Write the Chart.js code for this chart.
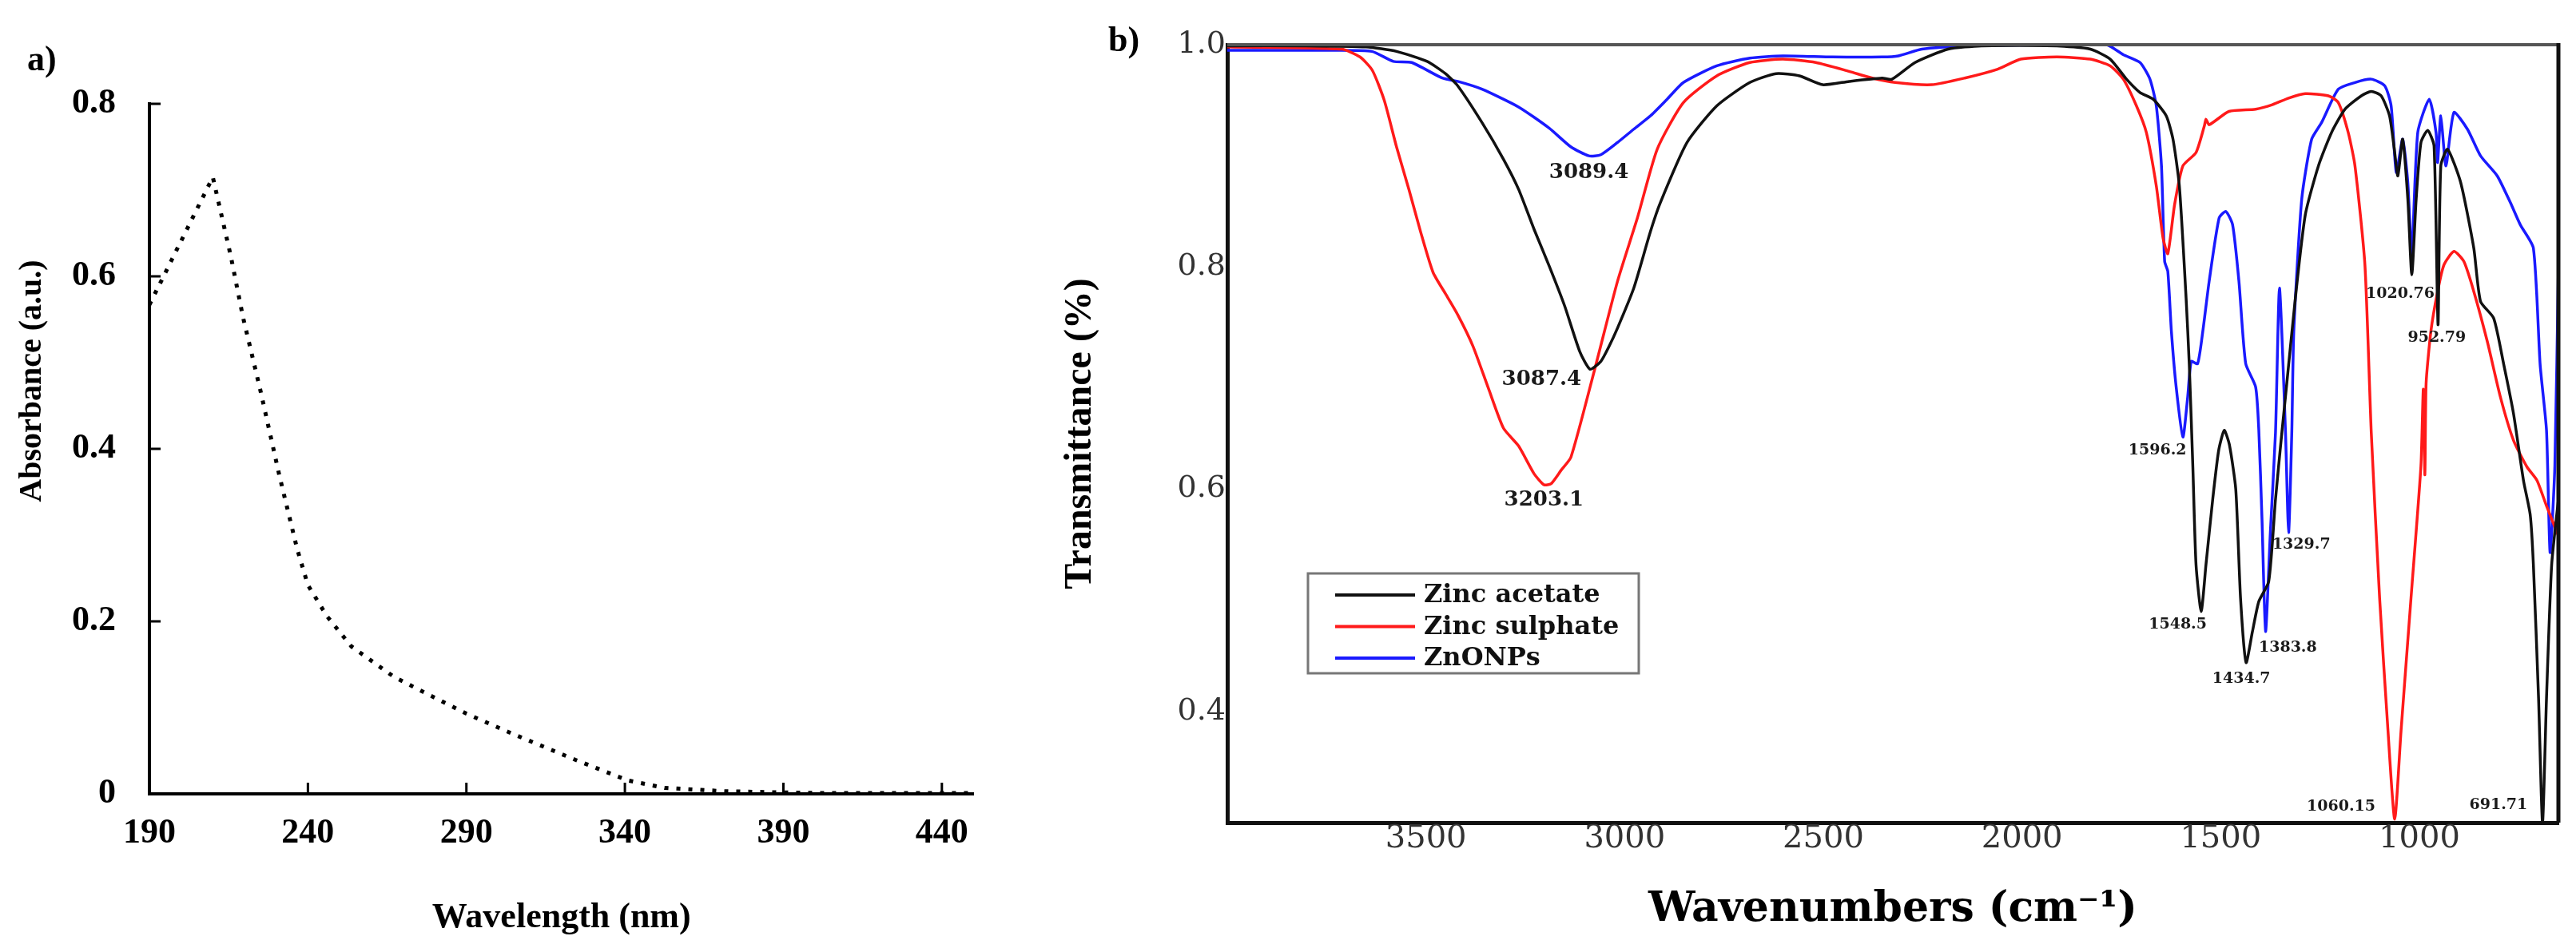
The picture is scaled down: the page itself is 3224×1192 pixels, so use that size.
<!DOCTYPE html>
<html>
<head>
<meta charset="utf-8">
<title>UV-Vis and FTIR spectra</title>
<script src="https://cdn.jsdelivr.net/npm/chart.js@4.4.1/dist/chart.umd.min.js"></script>
<style>
  html, body { margin: 0; padding: 0; background: #fff; }
  #wrap { position: relative; width: 3224px; height: 1192px; overflow: hidden; background: #fff; }
  #uvBox { position: absolute; left: 0; top: 0; width: 1240px; height: 1192px; }
  #ftirBox { position: absolute; left: 1240px; top: 0; width: 1984px; height: 1192px; }
</style>
</head>
<body>
<div id="wrap">
  <div id="uvBox"><canvas id="uvChart" width="1240" height="1192"></canvas></div>
  <div id="ftirBox"><canvas id="ftirChart" width="1984" height="1192"></canvas></div>
</div>
<script>
// ---- panel a: UV-Vis ----
const uvWavelength = [190, 195, 200, 205, 210, 215.7, 219.5, 225, 231, 236.6, 240, 246, 253.7, 267, 276.5, 290, 305, 324, 341, 352.5, 371.6, 400, 450];
const uvAbsorbance = [0.567, 0.604, 0.641, 0.678, 0.715, 0.623, 0.553, 0.468, 0.369, 0.284, 0.242, 0.206, 0.171, 0.136, 0.118, 0.093, 0.069, 0.040, 0.0155, 0.007, 0.003, 0.001, 0.001];
const uvXTicks = [190, 240, 290, 340, 390, 440];
const uvYTicks = [0, 0.2, 0.4, 0.6, 0.8];

// ---- panel b: FTIR ----
const seriesNames = ['Zinc acetate', 'Zinc sulphate', 'ZnONPs'];

const acetateWn = [4000, 3800, 3651, 3574, 3497, 3451, 3420, 3359, 3305, 3267, 3228, 3190, 3151, 3113, 3087, 3060, 3040, 3018, 2977, 2935, 2910, 2843, 2768, 2685, 2619, 2560, 2502, 2435, 2352, 2327, 2269, 2186, 2102, 1912, 1828, 1778, 1737, 1703, 1670, 1637, 1620, 1604, 1587, 1579, 1570, 1562, 1549, 1537, 1520, 1505, 1491, 1478, 1462, 1450, 1436, 1420, 1404, 1379, 1362, 1346, 1337, 1312, 1287, 1254, 1221, 1187, 1146, 1121, 1096, 1075, 1063, 1054, 1042, 1029, 1019, 1008, 996, 979, 963, 953, 946, 929, 896, 863, 846, 813, 788, 763, 738, 721, 713, 700, 690, 680, 667, 650];
const acetateT = [0.999, 0.999, 0.998, 0.994, 0.985, 0.974, 0.963, 0.930, 0.897, 0.870, 0.834, 0.801, 0.765, 0.724, 0.708, 0.715, 0.728, 0.745, 0.781, 0.832, 0.858, 0.912, 0.945, 0.966, 0.974, 0.972, 0.964, 0.967, 0.970, 0.969, 0.984, 0.996, 0.999, 0.999, 0.996, 0.987, 0.969, 0.957, 0.951, 0.936, 0.915, 0.873, 0.772, 0.712, 0.620, 0.532, 0.490, 0.532, 0.591, 0.635, 0.653, 0.640, 0.600, 0.502, 0.444, 0.472, 0.499, 0.517, 0.591, 0.651, 0.683, 0.772, 0.847, 0.891, 0.921, 0.942, 0.954, 0.958, 0.954, 0.936, 0.906, 0.882, 0.915, 0.861, 0.793, 0.861, 0.912, 0.923, 0.909, 0.748, 0.891, 0.906, 0.876, 0.817, 0.769, 0.754, 0.713, 0.668, 0.608, 0.577, 0.532, 0.412, 0.300, 0.412, 0.532, 0.591];

const sulphateWn = [4000, 3712, 3666, 3635, 3605, 3574, 3543, 3513, 3482, 3451, 3420, 3382, 3343, 3305, 3267, 3228, 3203, 3185, 3160, 3135, 3076, 3018, 2968, 2918, 2852, 2768, 2685, 2602, 2519, 2435, 2377, 2319, 2227, 2144, 2061, 2003, 1912, 1828, 1778, 1745, 1712, 1687, 1662, 1645, 1633, 1616, 1595, 1562, 1541, 1537, 1529, 1479, 1412, 1370, 1329, 1287, 1229, 1204, 1179, 1162, 1137, 1121, 1100, 1079, 1062, 1046, 1021, 996, 990, 986, 983, 971, 954, 938, 913, 888, 863, 829, 796, 763, 729, 704, 680, 650];
const sulphateT = [0.998, 0.996, 0.989, 0.977, 0.950, 0.908, 0.870, 0.831, 0.795, 0.776, 0.757, 0.729, 0.691, 0.655, 0.639, 0.614, 0.604, 0.605, 0.617, 0.629, 0.707, 0.787, 0.844, 0.906, 0.948, 0.972, 0.984, 0.987, 0.984, 0.976, 0.970, 0.966, 0.964, 0.970, 0.978, 0.987, 0.989, 0.987, 0.981, 0.969, 0.945, 0.921, 0.873, 0.826, 0.812, 0.856, 0.891, 0.903, 0.927, 0.933, 0.928, 0.940, 0.942, 0.946, 0.952, 0.956, 0.954, 0.948, 0.921, 0.891, 0.802, 0.651, 0.502, 0.383, 0.303, 0.383, 0.502, 0.621, 0.690, 0.613, 0.695, 0.742, 0.778, 0.802, 0.814, 0.805, 0.778, 0.733, 0.683, 0.644, 0.620, 0.608, 0.585, 0.558];

const znoWn = [4000, 3728, 3636, 3582, 3536, 3459, 3420, 3359, 3267, 3190, 3135, 3090, 3060, 3018, 2977, 2935, 2893, 2852, 2768, 2685, 2602, 2477, 2352, 2311, 2252, 2144, 1912, 1787, 1745, 1703, 1678, 1662, 1649, 1641, 1633, 1624, 1612, 1595, 1583, 1574, 1558, 1545, 1529, 1504, 1487, 1470, 1454, 1437, 1412, 1404, 1396, 1387, 1375, 1362, 1352, 1337, 1329, 1321, 1316, 1296, 1271, 1246, 1204, 1162, 1121, 1087, 1071, 1058, 1042, 1029, 1019, 1004, 975, 958, 954, 946, 933, 913, 879, 846, 804, 771, 746, 713, 696, 680, 671, 659, 650];
const znoT = [0.995, 0.995, 0.994, 0.985, 0.984, 0.970, 0.967, 0.960, 0.944, 0.925, 0.908, 0.900, 0.901, 0.912, 0.924, 0.936, 0.951, 0.966, 0.981, 0.988, 0.990, 0.989, 0.989, 0.990, 0.996, 0.999, 1.000, 1.000, 0.991, 0.984, 0.969, 0.945, 0.891, 0.805, 0.796, 0.742, 0.692, 0.647, 0.683, 0.715, 0.713, 0.742, 0.787, 0.844, 0.850, 0.838, 0.787, 0.713, 0.692, 0.653, 0.573, 0.472, 0.561, 0.651, 0.781, 0.653, 0.561, 0.651, 0.742, 0.861, 0.915, 0.930, 0.960, 0.966, 0.969, 0.963, 0.945, 0.885, 0.915, 0.876, 0.811, 0.921, 0.951, 0.921, 0.894, 0.936, 0.891, 0.939, 0.924, 0.900, 0.882, 0.858, 0.838, 0.817, 0.712, 0.653, 0.543, 0.621, 0.802];

const ftirXTicks = [3500, 3000, 2500, 2000, 1500, 1000];
const ftirYTicks = [0.4, 0.6, 0.8, 1.0];

// peak labels: text and where its centre sits (wavenumber, transmittance)
const peakText = ['3089.4', '3087.4', '3203.1', '1596.2', '1020.76', '952.79', '1329.7', '1548.5', '1383.8', '1434.7', '1060.15', '691.71'];
const peakX = [3090, 3209, 3203, 1659, 1048, 956, 1297, 1608, 1331, 1448, 1197, 801];
const peakY = [0.885, 0.699, 0.590, 0.635, 0.776, 0.736, 0.550, 0.478, 0.457, 0.429, 0.314, 0.316];

const timesFont = '"Liberation Serif", "Times New Roman", serif';
const dejaFont = '"DejaVu Serif", serif';

function toPoints(xs, ys) {
    return xs.map((v, i) => ({ x: v, y: ys[i] }));
}

// inward tick marks for panel a
const innerTicks = {
    id: 'innerTicks',
    afterDraw(chart) {
        const { ctx, chartArea, scales } = chart;
        ctx.save();
        ctx.strokeStyle = '#000';
        ctx.lineWidth = 3;
        ctx.beginPath();
        scales.x.ticks.forEach(t => {
            if (t.value === scales.x.min) return;
            const px = scales.x.getPixelForValue(t.value);
            ctx.moveTo(px, chartArea.bottom);
            ctx.lineTo(px, chartArea.bottom - 14);
        });
        scales.y.ticks.forEach(t => {
            if (t.value === scales.y.min) return;
            const py = scales.y.getPixelForValue(t.value);
            ctx.moveTo(chartArea.left, py);
            ctx.lineTo(chartArea.left + 14, py);
        });
        ctx.stroke();
        ctx.restore();
    }
};

// free text: panel letter and rotated axis title
const panelText = {
    id: 'panelText',
    afterDraw(chart, args, opts) {
        const ctx = chart.ctx;
        (opts.items || []).forEach(it => {
            ctx.save();
            ctx.fillStyle = it.color || '#000';
            ctx.font = it.font;
            ctx.textAlign = it.align || 'left';
            ctx.textBaseline = 'middle';
            ctx.translate(it.x, it.y);
            if (it.rotate) ctx.rotate(it.rotate);
            ctx.fillText(it.text, 0, 0);
            ctx.restore();
        });
    }
};

// box round the FTIR plot (top and right sides)
const frameBox = {
    id: 'frameBox',
    afterDatasetsDraw(chart) {
        const { ctx, chartArea: a } = chart;
        ctx.save();
        ctx.lineWidth = 4;
        ctx.strokeStyle = '#555';
        ctx.beginPath();
        ctx.moveTo(a.left, a.top);
        ctx.lineTo(a.right, a.top);
        ctx.stroke();
        ctx.lineWidth = 5;
        ctx.strokeStyle = '#111';
        ctx.beginPath();
        ctx.moveTo(a.right, a.top - 2);
        ctx.lineTo(a.right, a.bottom);
        ctx.stroke();
        ctx.restore();
    }
};

// legend drawn inside the plot, as in the figure
const insideLegend = {
    id: 'insideLegend',
    afterDatasetsDraw(chart) {
        const ctx = chart.ctx;
        const left = 397, top = 718, w = 414, h = 125;
        ctx.save();
        ctx.fillStyle = '#fff';
        ctx.fillRect(left, top, w, h);
        ctx.strokeStyle = '#777';
        ctx.lineWidth = 3;
        ctx.strokeRect(left, top, w, h);
        ctx.font = 'bold 32px ' + dejaFont;
        ctx.textBaseline = 'middle';
        ctx.textAlign = 'left';
        chart.data.datasets.forEach((ds, i) => {
            const y = top + 27 + i * 39.5;
            ctx.strokeStyle = ds.borderColor;
            ctx.lineWidth = 4;
            ctx.beginPath();
            ctx.moveTo(left + 34, y);
            ctx.lineTo(left + 134, y);
            ctx.stroke();
            ctx.fillStyle = '#111';
            ctx.fillText(ds.label, left + 145, y + 1);
        });
        ctx.restore();
    }
};

const peakLabels = {
    id: 'peakLabels',
    afterDatasetsDraw(chart) {
        const { ctx, scales } = chart;
        ctx.save();
        ctx.fillStyle = '#1a1a1a';
        ctx.textAlign = 'center';
        ctx.textBaseline = 'middle';
        peakText.forEach((t, i) => {
            const size = peakX[i] > 3000 ? 26 : 19;
            ctx.font = 'bold ' + size + 'px ' + dejaFont;
            ctx.fillText(t, scales.x.getPixelForValue(peakX[i]), scales.y.getPixelForValue(peakY[i]));
        });
        ctx.restore();
    }
};

// ---------- panel a ----------
const uvConfig = {
    type: 'line',
    data: {
        datasets: [{
            label: 'Absorbance',
            data: toPoints(uvWavelength, uvAbsorbance),
            borderColor: '#000',
            borderWidth: 5,
            borderDash: [5, 10],
            borderCapStyle: 'butt',
            pointRadius: 0,
            tension: 0,
            fill: false
        }]
    },
    options: {
        responsive: false,
        animation: false,
        devicePixelRatio: 1,
        layout: { padding: { top: 130, right: 5, left: 0, bottom: 0 } },
        plugins: {
            legend: { display: false },
            tooltip: { enabled: false },
            panelText: {
                items: [
                    { text: 'a)', x: 34, y: 77, font: 'bold 44px ' + timesFont },
                    { text: 'Absorbance (a.u.)', x: 41, y: 477, rotate: -Math.PI / 2, align: 'center', font: 'bold 40px ' + timesFont }
                ]
            }
        },
        scales: {
            x: {
                type: 'linear',
                min: 190,
                max: 450,
                afterBuildTicks: s => { s.ticks = uvXTicks.map(v => ({ value: v })); },
                afterFit: s => { s.height = 198; },
                grid: { display: false, drawTicks: false },
                border: { display: true, color: '#000', width: 4 },
                ticks: {
                    color: '#000',
                    padding: 28,
                    maxRotation: 0,
                    autoSkip: false,
                    font: { family: timesFont, weight: 'bold', size: 44, lineHeight: 1 },
                    callback: v => String(v)
                },
                title: {
                    display: true,
                    text: 'Wavelength (nm)',
                    color: '#000',
                    padding: { top: 0, bottom: 20 },
                    font: { family: timesFont, weight: 'bold', size: 44, lineHeight: 1 }
                }
            },
            y: {
                type: 'linear',
                min: 0,
                max: 0.8,
                afterBuildTicks: s => { s.ticks = uvYTicks.map(v => ({ value: v })); },
                afterFit: s => { s.width = 187; },
                grid: { display: false, drawTicks: false },
                border: { display: true, color: '#000', width: 4 },
                ticks: {
                    color: '#000',
                    padding: 42,
                    font: { family: timesFont, weight: 'bold', size: 44, lineHeight: 1 },
                    callback: v => (v === 0 ? '0' : v.toFixed(1))
                }
            }
        }
    },
    plugins: [innerTicks, panelText]
};

// ---------- panel b ----------
const ftirConfig = {
    type: 'line',
    data: {
        datasets: [
            { label: seriesNames[0], data: toPoints(acetateWn, acetateT), borderColor: '#111111' },
            { label: seriesNames[1], data: toPoints(sulphateWn, sulphateT), borderColor: '#ff1a1a' },
            { label: seriesNames[2], data: toPoints(znoWn, znoT), borderColor: '#1a1aff' }
        ].map(ds => Object.assign(ds, { borderWidth: 3.5, pointRadius: 0, tension: 0.2, fill: false }))
    },
    options: {
        responsive: false,
        animation: false,
        devicePixelRatio: 1,
        layout: { padding: { top: 56, right: 22, left: 0, bottom: 0 } },
        plugins: {
            legend: { display: false },
            tooltip: { enabled: false },
            panelText: {
                items: [
                    { text: 'b)', x: 147, y: 53, font: 'bold 44px ' + timesFont }
                ]
            }
        },
        scales: {
            x: {
                type: 'linear',
                min: 650,
                max: 4000,
                reverse: true,
                afterBuildTicks: s => { s.ticks = ftirXTicks.map(v => ({ value: v })); },
                afterFit: s => { s.height = 162; },
                grid: { display: false, drawTicks: false },
                border: { display: true, color: '#111', width: 5 },
                ticks: {
                    color: '#333',
                    padding: 1,
                    maxRotation: 0,
                    autoSkip: false,
                    font: { family: dejaFont, size: 40, lineHeight: 1 },
                    callback: v => String(v)
                },
                title: {
                    display: true,
                    text: 'Wavenumbers (cm⁻¹)',
                    color: '#000',
                    padding: { top: 0, bottom: 27 },
                    font: { family: dejaFont, weight: 'bold', size: 52, lineHeight: 1 }
                }
            },
            y: {
                type: 'linear',
                min: 0.3,
                max: 1.0,
                afterBuildTicks: s => { s.ticks = ftirYTicks.map(v => ({ value: v })); },
                afterFit: s => { s.width = 296; },
                grid: { display: false, drawTicks: false },
                border: { display: true, color: '#111', width: 5 },
                ticks: {
                    color: '#333',
                    padding: 2,
                    font: { family: dejaFont, size: 38, lineHeight: 1 },
                    callback: v => v.toFixed(1)
                },
                title: {
                    display: true,
                    text: 'Transmittance (%)',
                    color: '#000',
                    padding: { top: 89, bottom: 0 },
                    font: { family: timesFont, weight: 'bold', size: 48, lineHeight: 1 }
                }
            }
        }
    },
    plugins: [frameBox, insideLegend, peakLabels, panelText]
};

new Chart(document.getElementById('uvChart'), uvConfig);
new Chart(document.getElementById('ftirChart'), ftirConfig);
</script>
</body>
</html>
